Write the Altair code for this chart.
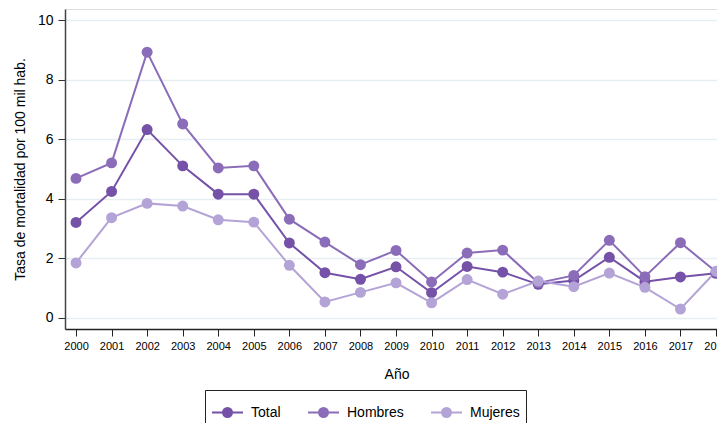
import altair as alt
import pandas as pd

years = list(range(2000, 2019))
series_names = ["Total", "Hombres", "Mujeres"]
total = [3.2, 4.24, 6.32, 5.1, 4.15, 4.15, 2.51, 1.51, 1.29, 1.71, 0.84, 1.72, 1.53, 1.12, 1.25, 2.03, 1.21, 1.37, 1.49]
hombres = [4.68, 5.2, 8.92, 6.51, 5.03, 5.1, 3.31, 2.54, 1.78, 2.26, 1.2, 2.17, 2.27, 1.17, 1.42, 2.6, 1.38, 2.52, 1.54]
mujeres = [1.84, 3.36, 3.84, 3.75, 3.29, 3.21, 1.76, 0.53, 0.85, 1.17, 0.5, 1.28, 0.79, 1.23, 1.04, 1.5, 1.02, 0.29, 1.56]
colors = ["#7551a8", "#8b6cb8", "#b4a3d6"]
y_ticks = [0, 2, 4, 6, 8, 10]

rows = []
for name, vals in zip(series_names, [total, hombres, mujeres]):
    for yr, v in zip(years, vals):
        rows.append({"Año": yr, "Serie": name, "Tasa": v})
df = pd.DataFrame(rows)

FONT = "Liberation Sans"
sym_path = "M-1,0H1M-0.29,0A0.29,0.29,0,1,0,0.29,0A0.29,0.29,0,1,0,-0.29,0"

color = alt.Color(
    "Serie:N",
    scale=alt.Scale(domain=series_names, range=colors),
    legend=alt.Legend(
        title=None,
        orient="none",
        legendX=140,
        legendY=381,
        direction="horizontal",
        symbolType=sym_path,
        symbolSize=961,
        symbolStrokeWidth=2,
        labelFontSize=14,
        labelFont=FONT,
        labelColor="#000",
        labelOffset=7,
        columnPadding=23,
        padding=6,
        strokeColor="#222",
        cornerRadius=0,
    ),
)

x = alt.X(
    "Año:Q",
    scale=alt.Scale(domain=[1999.69, 2018.028], nice=False, zero=False),
    axis=alt.Axis(
        values=years,
        format="d",
        grid=False,
        tickSize=7,
        tickColor="#222",
        domainColor="#222",
        domainWidth=1.5,
        labelFontSize=11,
        labelFont=FONT,
        labelColor="#000",
        labelPadding=4,
        labelFlush=False,
        labelOverlap=False,
        title="Año",
        titleFont=FONT,
        titleFontSize=14,
        titleFontWeight="normal",
        titleColor="#000",
        titlePadding=16,
        titleX=331.5,
        titleAnchor="start",
        titleAlign="center",
    ),
)
y = alt.Y(
    "Tasa:Q",
    scale=alt.Scale(domain=[-0.38, 10.37], nice=False, zero=False),
    axis=alt.Axis(
        values=y_ticks,
        grid=True,
        gridColor="#e6eef2",
        gridWidth=1.5,
        tickSize=7,
        tickColor="#333",
        domainColor="#444",
        domainWidth=1.5,
        labelFontSize=14,
        labelFont=FONT,
        labelColor="#000",
        labelPadding=5,
        title="Tasa de mortalidad por 100 mil hab.",
        titleFont=FONT,
        titleFontSize=14,
        titleFontWeight="normal",
        titleColor="#000",
        titlePadding=10,
    ),
)

base = alt.Chart(df)
lines = base.mark_line(strokeWidth=2).encode(x=x, y=y, color=color)
points = base.mark_circle(size=120, opacity=1).encode(x=x, y=y, color=color)

chart = (
    alt.layer(lines, points)
    .properties(
        width=652,
        height=320,
        autosize=alt.AutoSizeParams(type="none"),
        padding={"left": 57, "top": 1, "right": 0, "bottom": 94},
    )
    .configure_view(stroke=None)
    .configure(background="white")
)
chart.save("out.html", embed_options={"renderer": "svg", "actions": False})
